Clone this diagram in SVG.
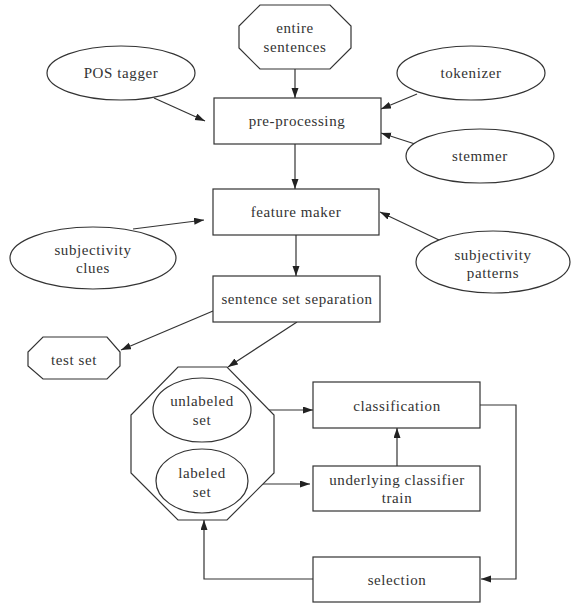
<svg xmlns="http://www.w3.org/2000/svg" width="572" height="604" viewBox="0 0 572 604">
<style>
.shape{fill:#fff;stroke:#333;stroke-width:1.2}
.inner{fill:none;stroke:#333;stroke-width:1.2}
text{font-family:"Liberation Serif","Times New Roman",serif;font-size:15px;fill:#333;text-anchor:middle;letter-spacing:0.6px}
.edge{fill:none;stroke:#333;stroke-width:1.2;marker-end:url(#ah)}
</style>
<defs>
<marker id="ah" markerUnits="userSpaceOnUse" markerWidth="11" markerHeight="8" refX="10" refY="3.5" orient="auto">
<path d="M0,0 L10,3.5 L0,7 z" fill="#222"/>
</marker>
</defs>
<rect width="572" height="604" fill="#fff"/>
<g id="connectors">
<line class="edge" x1="295" y1="69" x2="295" y2="98"/>
<line class="edge" x1="154" y1="98" x2="205" y2="121"/>
<line class="edge" x1="417" y1="94" x2="381" y2="109"/>
<line class="edge" x1="415" y1="144" x2="381" y2="133"/>
<line class="edge" x1="295" y1="144" x2="295" y2="189"/>
<line class="edge" x1="133" y1="229" x2="204" y2="220"/>
<line class="edge" x1="439" y1="240" x2="380" y2="212"/>
<line class="edge" x1="296" y1="235" x2="296" y2="276"/>
<line class="edge" x1="213" y1="311" x2="121" y2="350"/>
<line class="edge" x1="297" y1="322" x2="228" y2="367"/>
<line class="edge" x1="251" y1="410" x2="313" y2="410"/>
<line class="edge" x1="248" y1="484" x2="310" y2="484"/>
<line class="edge" x1="397" y1="466" x2="397" y2="428"/>
<polyline class="edge" points="480,405 516,405 516,579 481,579"/>
<polyline class="edge" points="313,579 204,579 204,520"/>
</g>
<g id="entire-sentences">
<polygon class="shape" points="260,5 330,5 351,26 351,48 330,69 260,69 239,48 239,26"/>
<text x="295" y="33">entire</text>
<text x="295" y="52">sentences</text>
</g>
<g id="pos-tagger">
<ellipse class="shape" cx="121" cy="73" rx="74" ry="27"/>
<text x="121" y="78">POS tagger</text>
</g>
<g id="tokenizer">
<ellipse class="shape" cx="471" cy="73" rx="74" ry="27"/>
<text x="471" y="78">tokenizer</text>
</g>
<g id="stemmer">
<ellipse class="shape" cx="480" cy="156" rx="74" ry="27"/>
<text x="480" y="161">stemmer</text>
</g>
<g id="pre-processing">
<rect class="shape" x="214" y="98" width="167" height="46"/>
<text x="297" y="126">pre-processing</text>
</g>
<g id="feature-maker">
<rect class="shape" x="213" y="189" width="166" height="46"/>
<text x="296" y="217">feature maker</text>
</g>
<g id="subjectivity-clues">
<ellipse class="shape" cx="93" cy="258" rx="83" ry="31"/>
<text x="93" y="255">subjectivity</text>
<text x="93" y="273">clues</text>
</g>
<g id="subjectivity-patterns">
<ellipse class="shape" cx="493" cy="262" rx="77" ry="31"/>
<text x="493" y="260">subjectivity</text>
<text x="493" y="278">patterns</text>
</g>
<g id="sentence-set-separation">
<rect class="shape" x="213" y="276" width="167" height="46"/>
<text x="297" y="304">sentence set separation</text>
</g>
<g id="test-set">
<polygon class="shape" points="43,337 107,337 120,352 120,366 107,379 43,379 28,366 28,352"/>
<text x="74" y="365">test set</text>
</g>
<g id="sets">
<polygon class="shape" points="178,367 227,367 274,415 274,473 227,520 178,520 131,473 131,415"/>
<g id="unlabeled-set">
<ellipse class="inner" cx="202" cy="410" rx="49" ry="32"/>
<text x="202" y="406">unlabeled</text>
<text x="202" y="425">set</text>
</g>
<g id="labeled-set">
<ellipse class="inner" cx="202" cy="481" rx="46" ry="32"/>
<text x="202" y="478">labeled</text>
<text x="202" y="497">set</text>
</g>
</g>
<g id="classification">
<rect class="shape" x="313" y="382" width="167" height="46"/>
<text x="397" y="411">classification</text>
</g>
<g id="underlying-classifier-train">
<rect class="shape" x="313" y="466" width="167" height="45"/>
<text x="397" y="485">underlying classifier</text>
<text x="397" y="503">train</text>
</g>
<g id="selection">
<rect class="shape" x="313" y="557" width="167" height="45"/>
<text x="397" y="585">selection</text>
</g>
</svg>
